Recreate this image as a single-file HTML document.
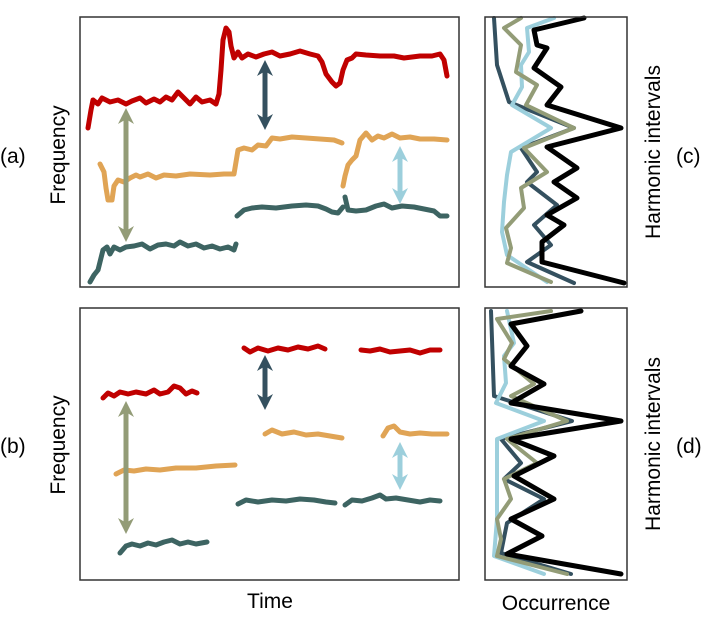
<!DOCTYPE html>
<html><head><meta charset="utf-8"><style>
body{margin:0;background:#fff;width:706px;height:614px;overflow:hidden}
</style></head><body>
<svg width="706" height="614" viewBox="0 0 706 614" xmlns="http://www.w3.org/2000/svg" font-family="Liberation Sans, sans-serif">
<defs>
<marker id="ah" viewBox="0 0 10 10" refX="5" refY="5" markerWidth="3.2" markerHeight="3.2" orient="auto-start-reverse"><path d="M0,0 L10,5 L0,10 L3,5 z" fill="context-stroke"/></marker>
</defs>
<g fill="none" stroke-width="5" stroke-linejoin="round" stroke-linecap="round">
<!-- panel a -->
<polyline stroke="#c00000" points="88,128 91,110 93,100 98,104 102,98 110,102 118,100 126,104 132,101 140,98 146,103 154,99 160,102 166,97 172,100 178,92 184,98 190,104 196,97 202,102 210,100 216,104 219,94 221,70 223,40 226,28 229,32 231,46 234,58 238,52 242,58 248,54 256,57 264,54 272,52 280,56 290,54 300,51 310,54 318,56 322,62 326,74 332,82 336,86 340,83 343,70 347,60 352,58 356,54 366,55 380,56 394,56 404,58 412,57 420,56 432,56 440,54 444,60 447,76"/>
<polyline stroke="#e0a455" points="100,164 104,172 106,188 108,200 112,200 114,186 118,180 124,182 130,178 136,175 140,177 148,174 156,178 164,175 176,176 190,174 210,175 224,174 234,174 236,162 238,150 244,148 252,150 258,145 266,146 272,138 280,139 292,137 306,138 320,139 334,140 342,143"/>
<polyline stroke="#e0a455" points="343,186 345,176 348,165 352,160 356,156 360,140 366,133 372,140 378,136 384,138 392,134 400,138 410,137 420,139 434,139 447,140"/>
<polyline stroke="#3d6462" points="90,282 94,275 98,270 100,262 103,250 107,247 110,254 114,247 120,250 126,247 134,246 142,244 150,249 158,245 166,244 174,246 180,242 188,246 196,244 204,248 212,246 220,249 228,247 234,250 236,244"/>
<polyline stroke="#3d6462" points="237,216 244,210 252,208 262,207 276,208 292,206 306,205 318,206 326,209 332,212 338,213 343,207"/>
<polyline stroke="#3d6462" points="345,197 348,210 356,211 366,210 376,206 384,204 392,208 402,206 414,207 424,209 434,211 440,216 447,216"/>
<!-- panel b -->
<polyline stroke="#c00000" points="103,398 108,393 114,396 120,392 128,394 136,392 146,394 154,390 160,394 168,392 174,386 180,388 186,394 192,391 197,393"/>
<polyline stroke="#c00000" points="244,348 250,352 258,348 268,351 278,348 288,350 298,347 308,349 318,346 325,349"/>
<polyline stroke="#c00000" points="361,350 370,351 380,349 390,352 400,351 410,350 420,353 430,350 440,350"/>
<polyline stroke="#e0a455" points="116,474 124,470 134,471 146,469 160,470 176,468 196,468 216,466 235,465"/>
<polyline stroke="#e0a455" points="265,434 272,430 282,434 294,432 306,435 318,434 330,436 342,438"/>
<polyline stroke="#e0a455" points="383,436 388,428 394,426 400,432 410,434 420,433 432,434 447,434"/>
<polyline stroke="#3d6462" points="120,553 126,546 132,544 140,546 148,543 156,545 164,542 172,540 180,544 188,542 196,544 207,542"/>
<polyline stroke="#3d6462" points="238,504 246,500 258,502 272,500 286,501 300,499 314,500 326,502 335,503"/>
<polyline stroke="#3d6462" points="345,505 352,500 362,501 372,498 380,495 386,499 396,498 408,500 420,502 430,500 440,501"/>
<!-- arrows -->
<g stroke-width="5" stroke-linecap="butt">
<line x1="126" y1="116" x2="126" y2="234" stroke="#939c77" marker-start="url(#ah)" marker-end="url(#ah)"/>
<line x1="265" y1="68" x2="265" y2="122" stroke="#34505f" marker-start="url(#ah)" marker-end="url(#ah)"/>
<line x1="400" y1="154" x2="400" y2="196" stroke="#9ccfdc" marker-start="url(#ah)" marker-end="url(#ah)"/>
<line x1="126" y1="409" x2="126" y2="526" stroke="#939c77" marker-start="url(#ah)" marker-end="url(#ah)"/>
<line x1="265" y1="363" x2="265" y2="402" stroke="#34505f" marker-start="url(#ah)" marker-end="url(#ah)"/>
<line x1="400" y1="450" x2="400" y2="482" stroke="#9ccfdc" marker-start="url(#ah)" marker-end="url(#ah)"/>
</g>
<!-- panel c -->
<polyline stroke="#34505f" stroke-width="4" points="494,18 497,65 509,102 574,128 521,148 537,172 527,182 557,205 534,225 551,245 527,262 574,283"/>
<polyline stroke="#9ccfdc" stroke-width="4" points="554,18 527,28 529,52 521,65 522,87 512,105 551,128 511,152 507,175 504,202 502,232 507,255 547,282"/>
<polyline stroke="#939c77" stroke-width="4" points="521,18 504,28 521,45 516,72 537,85 526,105 574,128 524,148 547,172 521,188 524,208 506,228 511,248 507,263 551,282"/>
<polyline stroke="#000" stroke-width="5" points="584,18 534,30 537,45 547,48 534,68 561,87 547,105 621,128 547,147 577,168 554,182 577,198 547,215 564,225 542,242 542,262 624,283"/>
<!-- panel d -->
<polyline stroke="#34505f" stroke-width="4" points="491,311 494,396 572,421 501,439 521,463 504,479 544,499 507,523 501,553 571,574"/>
<polyline stroke="#9ccfdc" stroke-width="4" points="507,311 514,343 504,356 506,383 496,403 544,421 497,439 497,479 497,519 494,556 544,574"/>
<polyline stroke="#939c77" stroke-width="4" points="551,311 497,319 512,343 504,359 534,384 511,396 567,421 507,439 537,463 504,479 511,499 497,519 501,539 497,556 567,574"/>
<polyline stroke="#000" stroke-width="5" points="581,311 511,324 527,346 511,366 544,384 511,403 621,421 511,439 554,456 514,476 554,499 511,519 542,536 507,554 621,574"/>
</g>
<!-- frames -->
<g fill="none" stroke="#333" stroke-width="1.5">
<rect x="80" y="17" width="379" height="270"/>
<rect x="80" y="308" width="379" height="272"/>
<rect x="485" y="17" width="142" height="270"/>
<rect x="485" y="308" width="142" height="272"/>
</g>
<g font-size="21" fill="#000">
<text x="0" y="163">(a)</text>
<text x="0" y="453">(b)</text>
<text x="676" y="163">(c)</text>
<text x="676" y="453">(d)</text>
<text x="270" y="608" text-anchor="middle">Time</text>
<text x="556" y="610" text-anchor="middle">Occurrence</text>
<text transform="translate(65,155) rotate(-90)" text-anchor="middle">Frequency</text>
<text transform="translate(65,445) rotate(-90)" text-anchor="middle">Frequency</text>
<text transform="translate(660,152) rotate(-90)" text-anchor="middle">Harmonic intervals</text>
<text transform="translate(660,444) rotate(-90)" text-anchor="middle">Harmonic intervals</text>
</g>
</svg>
</body></html>
